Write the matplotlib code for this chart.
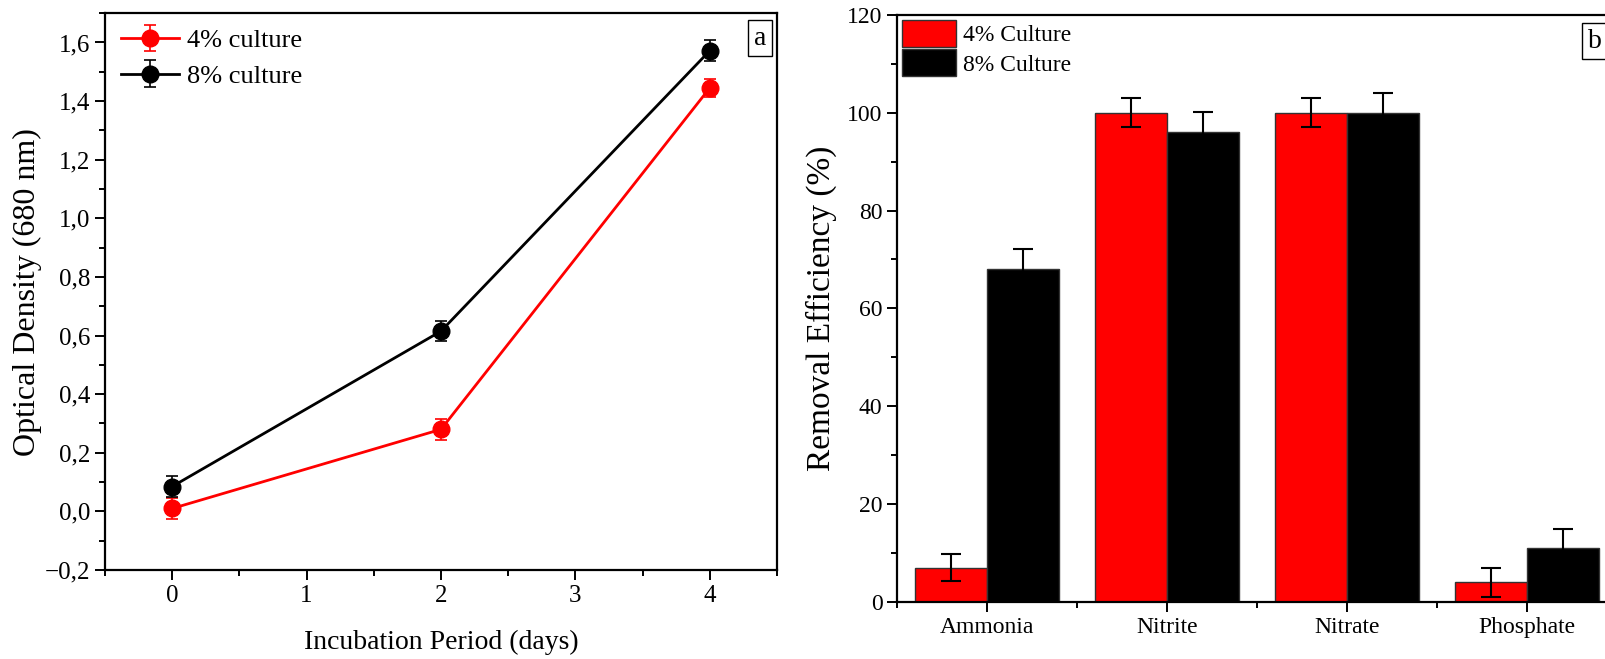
import matplotlib
matplotlib.use("Agg")
import matplotlib.pyplot as plt
import numpy as np
from matplotlib.ticker import MultipleLocator, FuncFormatter

plt.rcParams['font.family'] = ['Liberation Serif', 'DejaVu Serif']

# growth curve data (optical density at 680 nm)
days = [0, 2, 4]
od_4 = [0.01, 0.28, 1.445]
od_4_err = [0.035, 0.035, 0.03]
od_8 = [0.085, 0.615, 1.572]
od_8_err = [0.035, 0.035, 0.035]

# nutrient removal data
nutrients = ['Ammonia', 'Nitrite', 'Nitrate', 'Phosphate']
rem_4 = [7.0, 100.0, 100.0, 4.0]
rem_4_err = [2.8, 3.0, 3.0, 2.9]
rem_8 = [68.0, 96.0, 100.0, 11.0]
rem_8_err = [4.2, 4.1, 4.1, 4.0]

fig = plt.figure(figsize=(16.05, 6.59), dpi=100)


def comma(v, pos):
    s = '{:.1f}'.format(v).replace('.', ',')
    return s.replace('-', '\u2212')


# panel a
ax1 = fig.add_axes([0.0654, 0.135, 0.4187, 0.845])
ax1.errorbar(days, od_4, yerr=od_4_err, color='red', marker='o', markersize=12,
             lw=2, capsize=4, elinewidth=1.2, capthick=1.2, label='4% culture')
ax1.errorbar(days, od_8, yerr=od_8_err, color='black', marker='o', markersize=12,
             lw=2, capsize=4, elinewidth=1.2, capthick=1.2, label='8% culture')
ax1.set_xlim(-0.5, 4.5)
ax1.set_ylim(-0.2, 1.7)
ax1.xaxis.set_major_locator(MultipleLocator(1))
ax1.xaxis.set_minor_locator(MultipleLocator(0.5))
ax1.yaxis.set_major_locator(MultipleLocator(0.2))
ax1.yaxis.set_minor_locator(MultipleLocator(0.1))
ax1.yaxis.set_major_formatter(FuncFormatter(comma))
ax1.tick_params(which='major', labelsize=18)
ax1.set_xlabel('Incubation Period (days)', fontsize=20, labelpad=17)
ax1.set_ylabel('Optical Density (680 nm)', fontsize=23, labelpad=2)
ax1.legend(loc='upper left', frameon=False, fontsize=19, handlelength=2.2,
           borderaxespad=0.2, handletextpad=0.3, labelspacing=0.45)
ax1.text(0.975, 0.955, 'a', transform=ax1.transAxes, fontsize=20,
         ha='center', va='center',
         bbox=dict(boxstyle='square,pad=0.2', fc='white', ec='black', lw=1))

# panel b
ax2 = fig.add_axes([0.5589, 0.0865, 0.4486, 0.891])
x = np.arange(len(nutrients))
w = 0.4
ax2.bar(x - w / 2, rem_4, w, color='red', edgecolor='#333333', lw=1,
        label='4% Culture')
ax2.bar(x + w / 2, rem_8, w, color='black', edgecolor='#333333', lw=1,
        label='8% Culture')
ax2.errorbar(x - w / 2, rem_4, yerr=rem_4_err, fmt='none', ecolor='black',
             elinewidth=1.5, capsize=7, capthick=1.5)
ax2.errorbar(x + w / 2, rem_8, yerr=rem_8_err, fmt='none', ecolor='black',
             elinewidth=1.5, capsize=7, capthick=1.5)
ax2.set_xlim(-0.5, 3.5)
ax2.set_ylim(0, 120)
ax2.set_xticks(x)
ax2.set_xticklabels(nutrients)
ax2.xaxis.set_minor_locator(MultipleLocator(0.5))
ax2.yaxis.set_major_locator(MultipleLocator(20))
ax2.yaxis.set_minor_locator(MultipleLocator(10))
ax2.tick_params(axis='y', which='major', labelsize=17)
ax2.tick_params(axis='x', which='major', labelsize=17)
ax2.set_ylabel('Removal Efficiency (%)', fontsize=24, labelpad=7)
ax2.legend(loc='upper left', frameon=False, fontsize=17, handlelength=2.3,
           handleheight=1.4, borderaxespad=0.0, borderpad=0.2,
           handletextpad=0.3, labelspacing=0.1)
ax2.text(0.9595, 0.955, 'b', transform=ax2.transAxes, fontsize=20,
         ha='left', va='center',
         bbox=dict(boxstyle='square,pad=0.2', fc='white', ec='black', lw=1))

for ax in (ax1, ax2):
    for sp in ax.spines.values():
        sp.set_linewidth(1.6)
    ax.tick_params(which='both', direction='out', width=1.4,
                   top=False, right=False)
    ax.tick_params(which='major', length=7)
    ax.tick_params(which='minor', length=4)

fig.savefig('out.png', dpi=100)
